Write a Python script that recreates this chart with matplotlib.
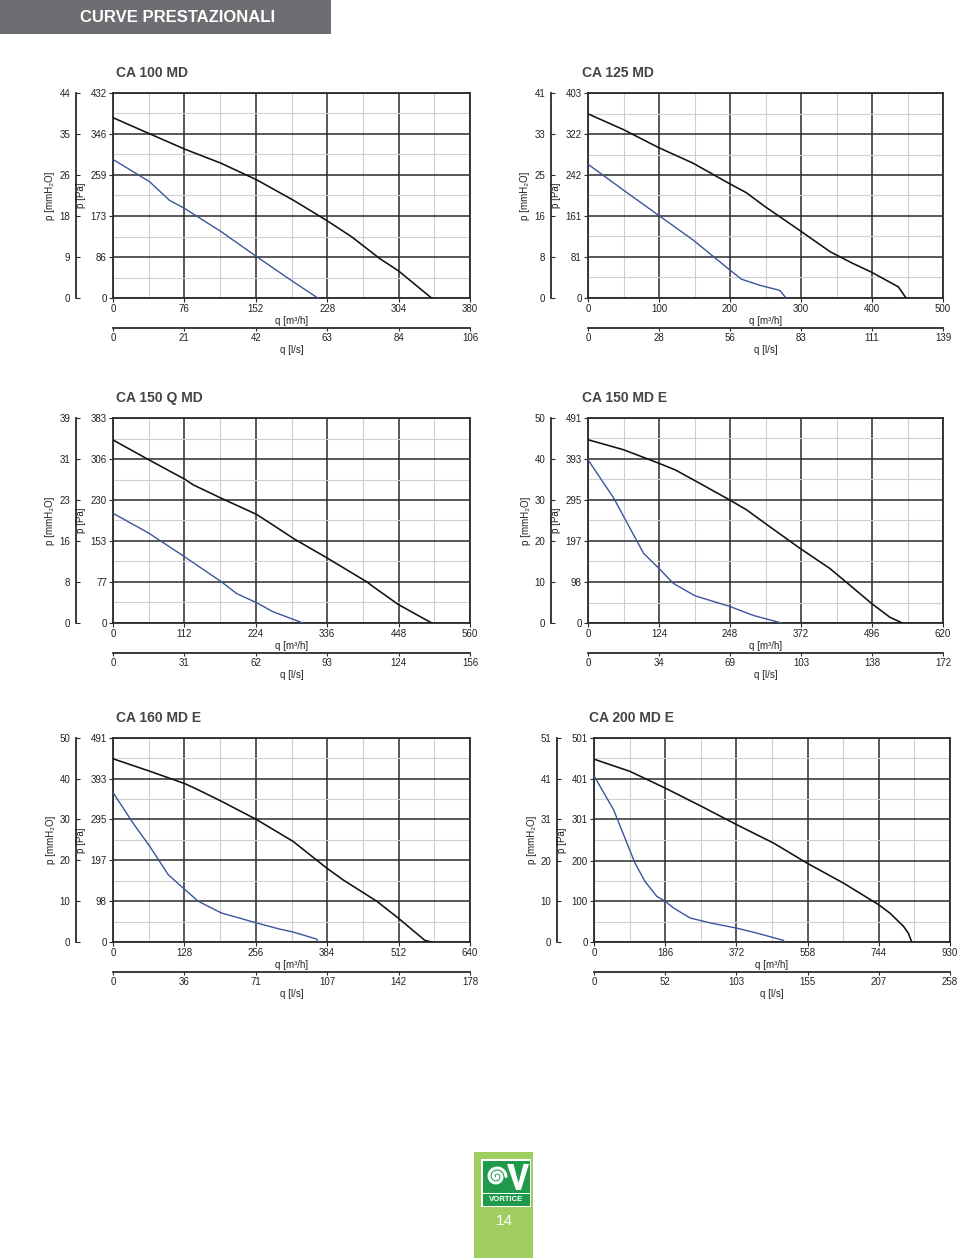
import numpy as np
import matplotlib
matplotlib.use("Agg")
import matplotlib.pyplot as plt
from matplotlib.patches import Rectangle, Polygon

plt.rcParams['font.family'] = ['Liberation Sans', 'DejaVu Sans']

# ---- data (q in m3/h, p in Pa) ----
# CA 100 MD
ca100_q_black = [0, 39, 76, 115, 153, 192, 227, 254, 284, 304, 339]
ca100_p_black = [380, 346, 314, 284, 249, 206, 164, 129, 83, 57, 0]
ca100_q_blue = [0, 39, 60, 76, 115, 153, 192, 218]
ca100_p_blue = [292, 245, 206, 189, 140, 87, 34, 0]
ca100_qticks = [0, 76, 152, 228, 304, 380]
ca100_pticks = [0, 86, 173, 259, 346, 432]
ca100_mmh2o = ['0', '9', '18', '26', '35', '44']
ca100_ls = ['0', '21', '42', '63', '84', '106']

# CA 125 MD
ca125_q_black = [0, 50, 99, 148, 199, 223, 249, 298, 341, 373, 399, 437, 448]
ca125_p_black = [362, 331, 296, 265, 225, 207, 180, 133, 91, 68, 51, 22, 0]
ca125_q_blue = [0, 50, 99, 148, 199, 216, 242, 270, 279]
ca125_p_blue = [263, 212, 163, 114, 56, 37, 25, 15, 0]
ca125_qticks = [0, 100, 200, 300, 400, 500]
ca125_pticks = [0, 81, 161, 242, 322, 403]
ca125_mmh2o = ['0', '8', '16', '25', '33', '41']
ca125_ls = ['0', '28', '56', '83', '111', '139']

# CA 150 Q MD
ca150q_q_black = [0, 56, 112, 126, 170, 225, 251, 283, 335, 398, 408, 447, 471, 500]
ca150q_p_black = [342, 305, 269, 258, 233, 203, 183, 158, 122, 77, 68, 35, 19, 0]
ca150q_q_blue = [0, 56, 112, 170, 194, 225, 251, 298]
ca150q_p_blue = [205, 168, 124, 77, 55, 38, 21, 0]
ca150q_qticks = [0, 112, 224, 336, 448, 560]
ca150q_pticks = [0, 77, 153, 230, 306, 383]
ca150q_mmh2o = ['0', '8', '16', '23', '31', '39']
ca150q_ls = ['0', '31', '62', '93', '124', '156']

# CA 150 MD E
ca150e_q_black = [0, 62, 123, 152, 184, 247, 277, 309, 370, 422, 457, 495, 527, 549]
ca150e_p_black = [439, 415, 383, 367, 343, 295, 271, 239, 179, 131, 91, 47, 14, 0]
ca150e_q_blue = [0, 45, 97, 123, 149, 187, 247, 289, 338]
ca150e_p_blue = [391, 299, 167, 132, 95, 65, 40, 18, 0]
ca150e_qticks = [0, 124, 248, 372, 496, 620]
ca150e_pticks = [0, 98, 197, 295, 393, 491]
ca150e_mmh2o = ['0', '10', '20', '30', '40', '50']
ca150e_ls = ['0', '34', '69', '103', '138', '172']

# CA 160 MD E
ca160_q_black = [0, 66, 129, 150, 194, 257, 323, 383, 413, 473, 511, 559, 571]
ca160_p_black = [441, 411, 381, 368, 339, 295, 242, 178, 149, 98, 58, 4, 0]
ca160_q_blue = [0, 36, 66, 99, 129, 153, 194, 257, 299, 323, 365, 368]
ca160_p_blue = [360, 286, 230, 162, 126, 98, 70, 46, 31, 24, 7, 0]
ca160_qticks = [0, 128, 256, 384, 512, 640]
ca160_pticks = [0, 98, 197, 295, 393, 491]
ca160_mmh2o = ['0', '10', '20', '30', '40', '50']
ca160_ls = ['0', '36', '71', '107', '142', '178']

# CA 200 MD E
ca200_q_black = [0, 94, 186, 281, 373, 469, 556, 651, 743, 773, 808, 821, 830]
ca200_p_black = [449, 419, 378, 333, 288, 243, 194, 145, 92, 71, 39, 22, 0]
ca200_q_blue = [0, 51, 107, 133, 164, 186, 207, 251, 303, 373, 425, 495, 497]
ca200_p_blue = [408, 325, 194, 149, 112, 100, 84, 59, 47, 34, 22, 4, 0]
ca200_qticks = [0, 186, 372, 558, 744, 930]
ca200_pticks = [0, 100, 200, 301, 401, 501]
ca200_mmh2o = ['0', '10', '20', '31', '41', '51']
ca200_ls = ['0', '52', '103', '155', '207', '258']

titles = ['CA 100 MD', 'CA 125 MD', 'CA 150 Q MD', 'CA 150 MD E', 'CA 160 MD E', 'CA 200 MD E']

charts = [
    (ca100_q_black, ca100_p_black, ca100_q_blue, ca100_p_blue, ca100_qticks, ca100_pticks, ca100_mmh2o, ca100_ls),
    (ca125_q_black, ca125_p_black, ca125_q_blue, ca125_p_blue, ca125_qticks, ca125_pticks, ca125_mmh2o, ca125_ls),
    (ca150q_q_black, ca150q_p_black, ca150q_q_blue, ca150q_p_blue, ca150q_qticks, ca150q_pticks, ca150q_mmh2o, ca150q_ls),
    (ca150e_q_black, ca150e_p_black, ca150e_q_blue, ca150e_p_blue, ca150e_qticks, ca150e_pticks, ca150e_mmh2o, ca150e_ls),
    (ca160_q_black, ca160_p_black, ca160_q_blue, ca160_p_blue, ca160_qticks, ca160_pticks, ca160_mmh2o, ca160_ls),
    (ca200_q_black, ca200_p_black, ca200_q_blue, ca200_p_blue, ca200_qticks, ca200_pticks, ca200_mmh2o, ca200_ls),
]

# layout of the plot boxes in pixels (x0, y0, x1, y1) and title x position
boxes = [(113, 93, 470, 298), (588, 93, 943, 298),
         (113, 418, 470, 623), (588, 418, 943, 623),
         (113, 738, 470, 942), (594, 738, 950, 942)]
title_x = [116, 582, 116, 582, 116, 589]

W, H = 960, 1258
fig = plt.figure(figsize=(W / 100, H / 100), dpi=100)

DARK = '#2b2b2b'
BLUE = '#3b559c'
TXT = '#222222'
FS = 7


def px_axes(x0, y0, x1, y1):
    return fig.add_axes([x0 / W, 1 - y1 / H, (x1 - x0) / W, (y1 - y0) / H])


# header band
fig.add_artist(Rectangle((0, 1 - 34 / H), 331 / W, 34 / H, transform=fig.transFigure,
                         facecolor='#6d6e71', edgecolor='none'))
fig.text(80 / W, 1 - 17 / H, 'CURVE PRESTAZIONALI', color='white', fontsize=12,
         fontweight='bold', ha='left', va='center')

for i, (qb, pb, qbl, pbl, qt, pt, mm, ls) in enumerate(charts):
    x0, y0, x1, y1 = boxes[i]
    ax = px_axes(x0, y0, x1, y1)
    hpx = y1 - y0

    ax.plot(qb, pb, color='#111111', lw=1.15, zorder=3)
    ax.plot(qbl, pbl, color=BLUE, lw=1.0, zorder=3)

    ax.set_xlim(0, qt[-1])
    ax.set_ylim(0, pt[-1])
    ax.set_xticks(qt)
    ax.set_yticks(pt)
    ax.set_xticks([(a + b) / 2 for a, b in zip(qt[:-1], qt[1:])], minor=True)
    ax.set_yticks([(a + b) / 2 for a, b in zip(pt[:-1], pt[1:])], minor=True)
    ax.grid(which='major', color=DARK, lw=1.1, zorder=1)
    ax.grid(which='minor', color='#cfcfcf', lw=0.8, zorder=0)
    ax.tick_params(which='minor', length=0)
    ax.tick_params(which='major', length=3, width=0.8, color=DARK,
                   labelsize=FS, labelcolor=TXT, pad=1.5)
    for s in ax.spines.values():
        s.set_linewidth(1.3)
        s.set_color(DARK)
    ax.set_xlabel('q [m³/h]', fontsize=FS, color=TXT, labelpad=1.5)
    ax.set_ylabel('p [Pa]', fontsize=FS, color=TXT, labelpad=3)

    # second x axis (l/s)
    secx = ax.secondary_xaxis(-30 / hpx)
    secx.set_xticks(qt, labels=ls)
    secx.tick_params(length=2, width=0.8, color=DARK, labelsize=FS,
                     labelcolor=TXT, pad=1.5)
    secx.spines['bottom'].set_linewidth(1.3)
    secx.spines['bottom'].set_color(DARK)
    secx.set_xlabel('q [l/s]', fontsize=FS, color=TXT, labelpad=1.5)

    # second y axis (mmH2O)
    secy = ax.secondary_yaxis(-37 / (x1 - x0))
    secy.set_yticks(pt, labels=mm)
    secy.tick_params(length=3, width=0.8, color=DARK, direction='in',
                     labelsize=FS, labelcolor=TXT, pad=4)
    secy.spines['left'].set_linewidth(1.3)
    secy.spines['left'].set_color(DARK)
    secy.set_ylabel('p [mmH₂O]', fontsize=FS, color=TXT, labelpad=3)

    fig.text(title_x[i] / W, 1 - (y0 - 20) / H, titles[i], fontsize=10,
             fontweight='bold', color='#444444', ha='left', va='center')

# footer logo
lg = fig.add_axes([474 / W, 0, 59 / W, 106 / H])
lg.set_xlim(0, 59)
lg.set_ylim(106, 0)
lg.axis('off')
lg.add_patch(Rectangle((0, 0), 59, 106, facecolor='#9fcd5f', edgecolor='none'))
lg.add_patch(Rectangle((7, 7), 50, 48, facecolor='white', edgecolor='none'))
lg.add_patch(Rectangle((8.5, 8.5), 47, 32, facecolor='#1e9a4a', edgecolor='none'))
lg.add_patch(Rectangle((8.5, 42), 47, 11.5, facecolor='#1e9a4a', edgecolor='none'))
t = np.linspace(0, 4.2 * np.pi, 200)
r = 9.5 * (1 - t / (4.6 * np.pi))
lg.plot(22.5 + r * np.cos(t), 24.5 - r * np.sin(t), color='white', lw=2.2,
        solid_capstyle='round')
lg.add_patch(Polygon([(33, 12), (39.5, 12), (44.5, 31), (49.5, 12), (55, 12),
                      (47, 38), (42, 38)], closed=True, facecolor='white',
                     edgecolor='none'))
lg.text(32, 47.8, 'VORTICE', color='white', fontsize=5.6, fontweight='bold',
        ha='center', va='center')
lg.text(30, 69, '14', color='white', fontsize=11, ha='center', va='center')

fig.savefig('out.png', dpi=100, facecolor='white')
